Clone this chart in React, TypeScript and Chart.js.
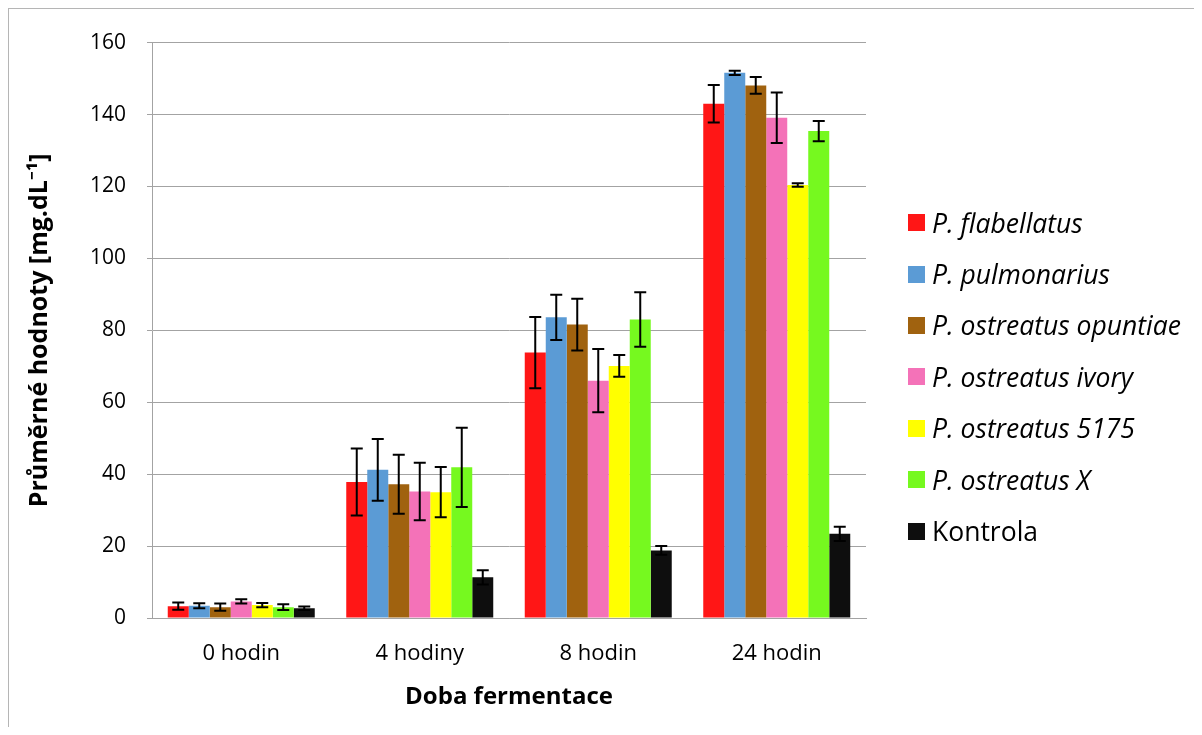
import React, { useEffect, useRef } from "react";
import { Chart, registerables } from "chart.js";

Chart.register(...registerables);

// Fermentation time points
const categories = ["0 hodin", "4 hodiny", "8 hodin", "24 hodin"];

// Mean values [mg.dL-1] per strain
const flabellatus = [3.3, 37.8, 73.8, 143.0];
const pulmonarius = [3.4, 41.2, 83.6, 151.6];
const opuntiae = [3.0, 37.2, 81.6, 148.1];
const ivory = [4.6, 35.2, 66.0, 139.1];
const strain5175 = [3.6, 35.0, 70.1, 120.4];
const strainX = [3.0, 41.9, 83.0, 135.4];
const kontrola = [2.7, 11.3, 18.8, 23.4];

// Standard deviations per strain
const flabellatusErr = [1.0, 9.3, 9.9, 5.2];
const pulmonariusErr = [0.7, 8.6, 6.3, 0.6];
const opuntiaeErr = [1.0, 8.2, 7.2, 2.3];
const ivoryErr = [0.6, 8.0, 8.8, 7.0];
const strain5175Err = [0.6, 7.0, 3.0, 0.5];
const strainXErr = [0.8, 11.0, 7.6, 2.8];
const kontrolaErr = [0.5, 2.0, 1.2, 2.0];

const seriesNames = [
  "P. flabellatus",
  "P. pulmonarius",
  "P. ostreatus opuntiae",
  "P. ostreatus ivory",
  "P. ostreatus 5175",
  "P. ostreatus X",
  "Kontrola",
];
const seriesItalic = [true, true, true, true, true, true, false];
const seriesValues = [flabellatus, pulmonarius, opuntiae, ivory, strain5175, strainX, kontrola];
const seriesErrors = [flabellatusErr, pulmonariusErr, opuntiaeErr, ivoryErr, strain5175Err, strainXErr, kontrolaErr];
const seriesColors = ["#FF1616", "#5B9BD5", "#A0620F", "#F472B8", "#FFFF00", "#76F91F", "#0E0E0E"];

const yTicks = [0, 20, 40, 60, 80, 100, 120, 140, 160];

const FONT = "'Open Sans', 'Noto Sans', sans-serif";
const GRID = "#a3a3a3";

// Draws symmetric error bars on top of every bar
const errorBarPlugin = {
  id: "errorBars",
  afterDatasetsDraw(chart: any) {
    const ctx = chart.ctx;
    const y = chart.scales.y;
    ctx.save();
    ctx.strokeStyle = "#000";
    ctx.lineWidth = 2;
    chart.data.datasets.forEach((ds: any, i: number) => {
      const meta = chart.getDatasetMeta(i);
      meta.data.forEach((bar: any, j: number) => {
        const v = ds.data[j];
        const e = ds.errors[j];
        const top = y.getPixelForValue(v + e);
        const bot = y.getPixelForValue(v - e);
        const cap = 6;
        ctx.beginPath();
        ctx.moveTo(bar.x, top);
        ctx.lineTo(bar.x, bot);
        ctx.moveTo(bar.x - cap, top);
        ctx.lineTo(bar.x + cap, top);
        ctx.moveTo(bar.x - cap, bot);
        ctx.lineTo(bar.x + cap, bot);
        ctx.stroke();
      });
    });
    ctx.restore();
  },
};

export default function App() {
  const canvasRef = useRef<HTMLCanvasElement | null>(null);

  useEffect(() => {
    if (!canvasRef.current) return;
    const chart = new Chart(canvasRef.current, {
      type: "bar",
      data: {
        labels: categories,
        datasets: seriesNames.map((name, i) => ({
          label: name,
          data: seriesValues[i],
          errors: seriesErrors[i],
          backgroundColor: seriesColors[i],
          borderWidth: 0,
          barPercentage: 1,
          categoryPercentage: 0.8235,
        })) as any,
      },
      options: {
        animation: false,
        responsive: true,
        maintainAspectRatio: false,
        layout: { padding: { top: 32, right: 328, left: 0, bottom: 0 } },
        plugins: {
          legend: { display: false },
          tooltip: { enabled: false },
        },
        scales: {
          x: {
            grid: { display: false, drawTicks: false },
            border: { display: true, color: GRID, width: 1 },
            ticks: {
              color: "#000",
              padding: 23,
              font: { family: FONT, size: 22 },
            },
            title: {
              display: true,
              text: "Doba fermentace",
              color: "#000",
              font: { family: FONT, size: 24, weight: "bold" },
              padding: { top: 0, bottom: 15 },
            },
            afterFit(scale: any) {
              scale.height = 109;
            },
          },
          y: {
            min: 0,
            max: 160,
            afterBuildTicks(scale: any) {
              scale.ticks = yTicks.map((v) => ({ value: v }));
            },
            grid: { color: GRID, lineWidth: 1, tickLength: 5 },
            border: { display: true, color: GRID, width: 1 },
            ticks: {
              color: "#000",
              padding: 21,
              font: { family: FONT, size: 21 },
            },
            title: {
              display: true,
              text: "Průměrné hodnoty [mg.dL⁻¹]",
              color: "#000",
              font: { family: FONT, size: 25, weight: "bold" },
              padding: { top: 16, bottom: 0 },
            },
            afterFit(scale: any) {
              scale.width = 143;
            },
          },
        },
      },
      plugins: [errorBarPlugin],
    });
    return () => chart.destroy();
  }, []);

  return (
    <div
      style={{
        position: "relative",
        width: 1185,
        height: 718,
        borderLeft: "1px solid #b5b5b5",
        borderTop: "1px solid #b5b5b5",
        background: "#fff",
      }}
    >
      <canvas ref={canvasRef} style={{ position: "absolute", left: 0, top: 0, width: 1185, height: 718 }} />
      <div style={{ position: "absolute", left: 899, top: 188, fontFamily: FONT }}>
        {seriesNames.map((name, i) => (
          <div
            key={name}
            style={{
              display: "flex",
              alignItems: "center",
              height: 51.4,
              fontSize: 26.5,
              fontStyle: seriesItalic[i] ? "italic" : "normal",
              color: "#000",
              whiteSpace: "nowrap",
            }}
          >
            <span
              style={{
                display: "inline-block",
                width: 17,
                height: 17,
                background: seriesColors[i],
                marginRight: 7,
              }}
            />
            <span>{name}</span>
          </div>
        ))}
      </div>
    </div>
  );
}
